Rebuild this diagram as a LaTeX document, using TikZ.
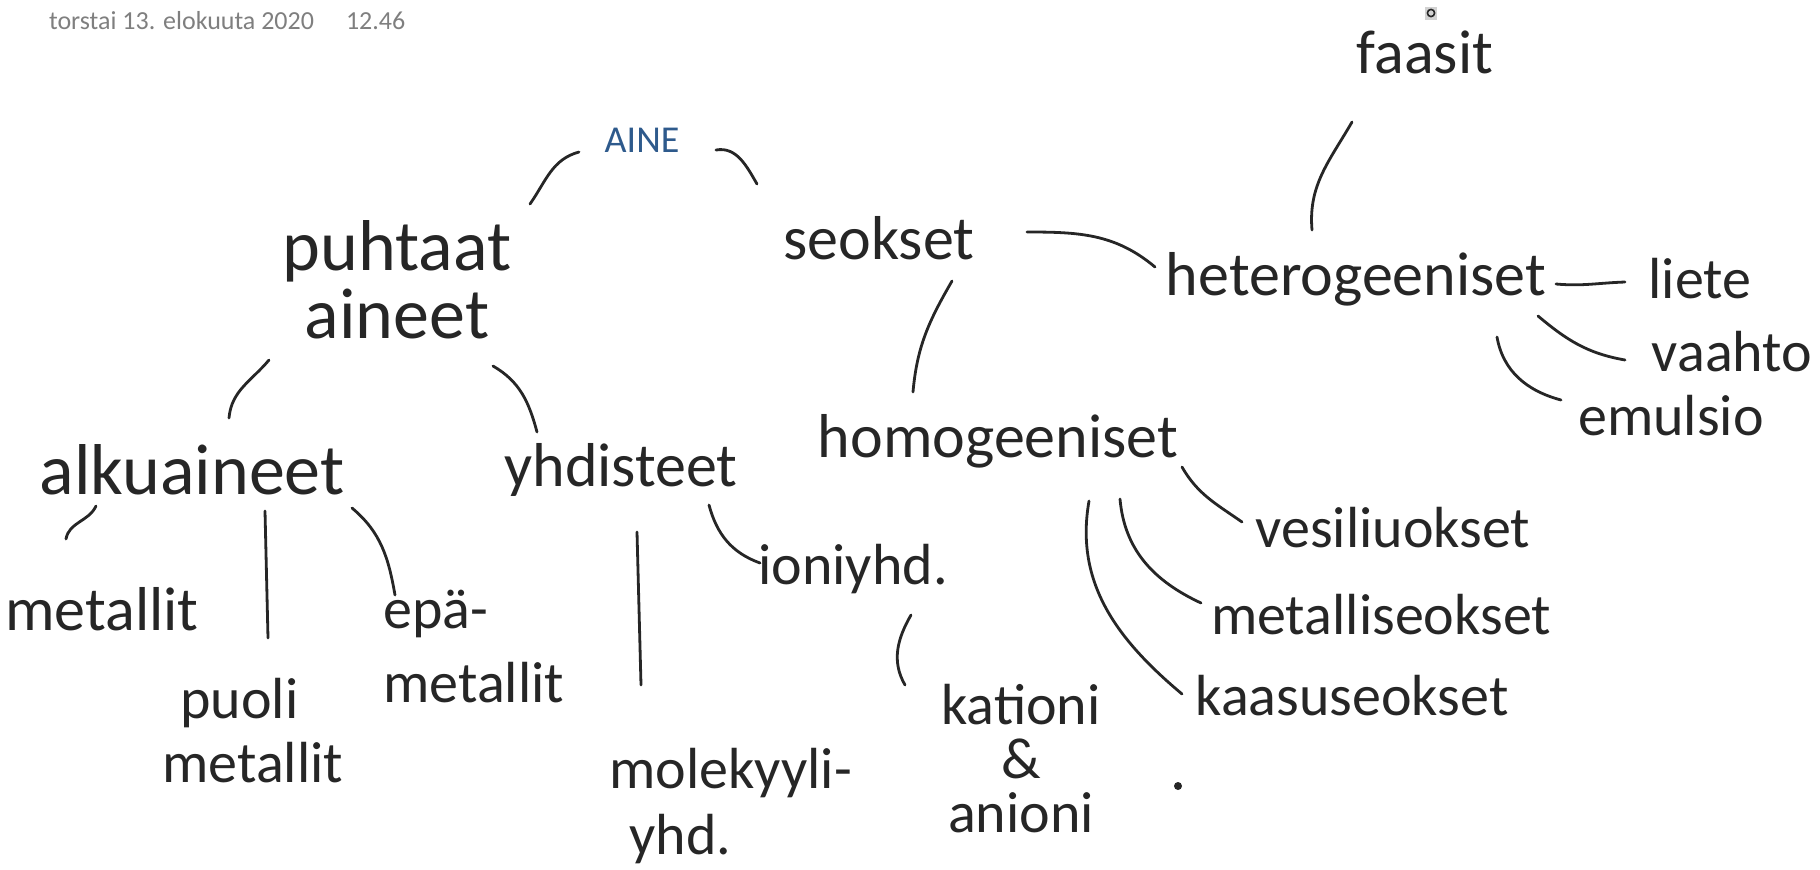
\documentclass[tikz,border=0pt]{standalone}
\usepackage{fontspec}
\setmainfont{Carlito}
\definecolor{ink}{HTML}{262626}
\definecolor{ainesin}{HTML}{2E5A8C}
\definecolor{paivays}{HTML}{7F7F7F}
\tikzset{
  sana/.style={font=\fontsize{31}{34}\selectfont, text=ink, inner sep=0pt},
  pieni/.style={font=\fontsize{29}{32}\selectfont, text=ink, inner sep=0pt},
  viiva/.style={draw=ink, line width=1.4pt, line cap=round},
}
\begin{document}
\begin{tikzpicture}[x=0.5pt,y=0.5pt]
\useasboundingbox (0,0) rectangle (1820,-869);

\node[anchor=west, text=paivays, font=\fontsize{13}{15}\selectfont] (pvm) at (42,-21) {torstai 13. elokuuta 2020\hspace{16pt}12.46};
\node[text=ainesin, font=\fontsize{19}{22}\selectfont] (aine) at (642,-140) {AINE};

\node[sana, align=center, font=\fontsize{36}{34}\selectfont] (puhtaat) at (397,-280) {puhtaat\\aineet};
\node[sana] (seokset) at (879,-238) {seokset};
\node[sana] (hetero) at (1356,-279) {heterogeeniset};
\node[sana] (faasit) at (1425,-52) {faasit};
\node[pieni] (liete) at (1700,-279) {liete};
\node[pieni] (vaahto) at (1732,-352) {vaahto};
\node[pieni] (emulsio) at (1671,-416) {emulsio};
\node[sana] (homog) at (998,-441) {homogeeniset};
\node[sana, font=\fontsize{36}{40}\selectfont] (alku) at (192,-470) {alkuaineet};
\node[sana] (yhd) at (621,-470) {yhdisteet};
\node[pieni, font=\fontsize{31}{34}\selectfont] (metallit) at (102,-609) {metallit};
\node[pieni, align=left, anchor=west] (puoli) at (162,-731) {\hspace*{9pt}puoli\\metallit};
\node[pieni, align=left, anchor=west, font=\fontsize{29}{37}\selectfont] (epa) at (383,-647) {epä-\\metallit};
\node[pieni] (ioni) at (853,-569) {ioniyhd.};
\node[pieni, align=center, font=\fontsize{29}{27}\selectfont] (kationi) at (1021,-759) {kationi\\\&\\anioni};
\node[pieni, align=left, anchor=west, font=\fontsize{29}{33}\selectfont] (molek) at (609,-806) {molekyyli-\\\hspace*{10pt}yhd.};
\node[pieni] (vesi) at (1393,-528) {vesiliuokset};
\node[pieni] (metseok) at (1381,-615) {metalliseokset};
\node[pieni] (kaasu) at (1352,-696) {kaasuseokset};

\draw[viiva] ([shift={(133,76)}]puhtaat.center) to[out=55,in=195] ([shift={(-63,-12)}]aine.center);
\draw[viiva] ([shift={(74,-10)}]aine.center) to[out=10,in=120] ([shift={(-122,54)}]seokset.center);
\draw[viiva] ([shift={(148,6)}]seokset.center) to[out=0,in=140] ([shift={(-201,12)}]hetero.center);
\draw[viiva] ([shift={(-44,49)}]hetero.center) to[out=95,in=240] ([shift={(-73,-70)}]faasit.center);
\draw[viiva] ([shift={(200,-5)}]hetero.center) to[out=-5,in=182] ([shift={(-75,-3)}]liete.center);
\draw[viiva] ([shift={(182,-37)}]hetero.center) to[out=-40,in=170] ([shift={(-107,-8)}]vaahto.center);
\draw[viiva] ([shift={(141,-58)}]hetero.center) to[out=-80,in=165] ([shift={(-110,16)}]emulsio.center);
\draw[viiva] ([shift={(73,-43)}]seokset.center) to[out=-120,in=85] ([shift={(-85,49)}]homog.center);

\draw[viiva] ([shift={(-128,-80)}]puhtaat.center) to[out=-130,in=85] ([shift={(37,52)}]alku.center);
\draw[viiva] ([shift={(96,-86)}]puhtaat.center) to[out=-30,in=105] ([shift={(-84,38)}]yhd.center);
\draw[viiva] ([shift={(-96,-36)}]alku.center) to[out=-115,in=80] ([shift={(-36,70)}]metallit.center);
\draw[viiva] ([shift={(73,-41)}]alku.center) -- ([shift={(106,93)}]puoli.west);
\draw[viiva] ([shift={(160,-38)}]alku.center) to[out=-40,in=100] ([shift={(12,52)}]epa.west);
\draw[viiva] ([shift={(16,-62)}]yhd.center) -- ([shift={(32,121)}]molek.west);
\draw[viiva] ([shift={(88,-35)}]yhd.center) to[out=-75,in=160] ([shift={(-93,6)}]ioni.center);
\draw[viiva] ([shift={(58,-46)}]ioni.center) to[out=-120,in=120] ([shift={(-116,74)}]kationi.center);

\draw[viiva] ([shift={(184,-26)}]homog.center) to[out=-60,in=145] ([shift={(-151,6)}]vesi.center);
\draw[viiva] ([shift={(122,-58)}]homog.center) to[out=-85,in=155] ([shift={(-180,12)}]metseok.center);
\draw[viiva] ([shift={(91,-60)}]homog.center) to[out=-100,in=140] ([shift={(-170,2)}]kaasu.center);

\fill[gray!35] (1425,-7) rectangle (1437,-20);
\draw[ink, line width=0.8pt] (1431,-13) circle (1.8pt);
\fill[ink] (1178,-786) circle (2pt);
\end{tikzpicture}
\end{document}
